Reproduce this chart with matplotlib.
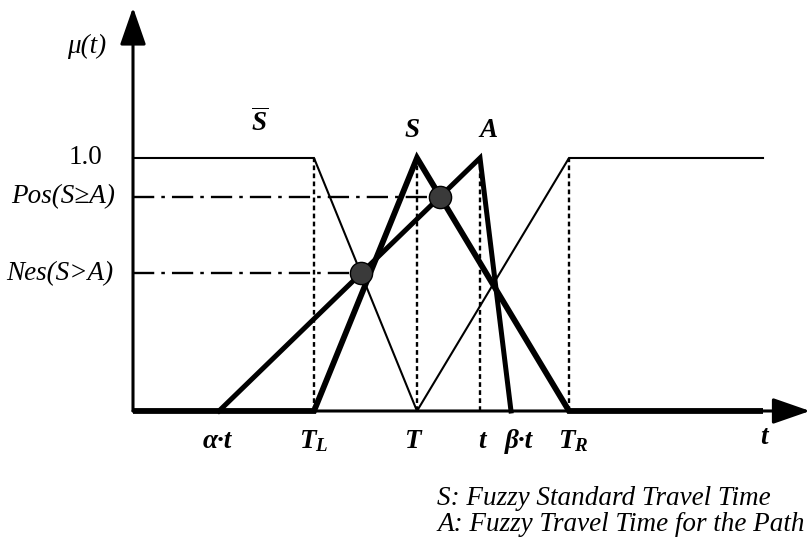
import matplotlib
matplotlib.use("Agg")
import matplotlib.pyplot as plt

plt.rcParams['font.family'] = ['Liberation Serif', 'DejaVu Serif']
plt.rcParams['mathtext.fontset'] = 'custom'
plt.rcParams['mathtext.rm'] = 'Liberation Serif'
plt.rcParams['mathtext.it'] = 'Liberation Serif:italic'
plt.rcParams['mathtext.bf'] = 'Liberation Serif:bold:italic'

# break points on the time axis
alpha_t = 8.6
T_L = 18.1
T = 28.4
t_path = 34.7
beta_t = 37.8
T_R = 43.6
t_end = 63.0

# membership functions (x, mu)
S_x = [0, T_L, T, T_R, t_end]
S_mu = [0, 0, 1, 0, 0]
A_x = [alpha_t, t_path, beta_t]
A_mu = [0, 1, 0]
Sbar_x = [0, T_L, T, T_R, t_end]
Sbar_mu = [1, 1, 0, 1, 1]

tick_pos = [alpha_t, T_L, T, t_path, beta_t, T_R]
tick_lbl = ['\u03b1\u00b7t', r'$\mathbf{T_L}$', 'T', 't',
            '\u03b2\u00b7t', r'$\mathbf{T_R}$']
tick_dx = [-0.2, 0, -0.5, 0.2, 0.8, 0.4]


def cross(x1, y1, x2, y2, x3, y3, x4, y4):
    # intersection of segment (1-2) with segment (3-4)
    m1 = (y2 - y1) / (x2 - x1)
    m2 = (y4 - y3) / (x4 - x3)
    x = (y3 - y1 + m1 * x1 - m2 * x3) / (m1 - m2)
    return x, y1 + m1 * (x - x1)


# Pos: A rising meets S falling, Nes: A rising meets S-bar falling
pos_x, pos_y = cross(alpha_t, 0, t_path, 1, T, 1, T_R, 0)
nes_x, nes_y = cross(alpha_t, 0, t_path, 1, T_L, 1, T, 0)

fig = plt.figure(figsize=(8.11, 5.39), dpi=100)
ax = fig.add_axes([0, 0, 1, 1])
ax.set_xlim(-13.3, 67.8)
ax.set_ylim(-0.506, 1.6245)
ax.axis('off')

# axes with arrow heads
arr = dict(arrowstyle='-|>,head_length=1.15,head_width=0.4', color='black',
           lw=2.2, mutation_scale=20, shrinkA=0, shrinkB=0)
ax.annotate('', xy=(0, 1.595), xytext=(0, 0), arrowprops=arr)
ax.annotate('', xy=(67.7, 0), xytext=(0, 0), arrowprops=arr)

ax.plot(Sbar_x, Sbar_mu, color='black', lw=1.5, solid_joinstyle='miter')
ax.plot(S_x, S_mu, color='black', lw=4.2, solid_joinstyle='miter',
        solid_capstyle='butt')
ax.plot(A_x, A_mu, color='black', lw=3.6, solid_joinstyle='miter')

for xv in [T_L, T, t_path, T_R]:
    ax.plot([xv, xv], [0, 1], color='black', lw=1.7, ls=(0, (2, 1.4)))

for xv, yv in [(pos_x, pos_y), (nes_x, nes_y)]:
    ax.plot([0, xv], [yv, yv], color='black', lw=1.7,
            ls=(0, (9, 3, 1.5, 3)))
    ax.plot(xv, yv, 'o', ms=16, mfc='#3a3a3a', mec='black', mew=1)

fs = 19.5
ax.text(-4.6, 1.44, '\u03bc(t)', fontsize=fs, style='italic',
        ha='center', va='center')
ax.text(-3.1, 1.0, '1.0', fontsize=fs, ha='right', va='center')
ax.text(-1.8, pos_y, 'Pos(S\u2265A)', fontsize=fs, style='italic',
        ha='right', va='center')
ax.text(-2.0, nes_y, 'Nes(S>A)', fontsize=fs, style='italic',
        ha='right', va='center')

ax.text(12.7, 1.14, r'$\overline{\mathbf{S}}$', fontsize=fs,
        ha='center', va='center')
ax.text(T - 0.5, 1.11, 'S', fontsize=fs, weight='bold', style='italic',
        ha='center', va='center')
ax.text(t_path + 0.8, 1.11, 'A', fontsize=fs, weight='bold', style='italic',
        ha='center', va='center')

for xv, dx, lbl in zip(tick_pos, tick_dx, tick_lbl):
    ax.text(xv + dx, -0.12, lbl, fontsize=fs, weight='bold', style='italic',
            ha='center', va='center')
ax.text(t_end + 0.1, -0.105, 't', fontsize=fs, weight='bold', style='italic',
        ha='center', va='center')

ax.text(30.4, -0.345, 'S: Fuzzy Standard Travel Time', fontsize=fs,
        style='italic', ha='left', va='center')
ax.text(30.4, -0.45, 'A: Fuzzy Travel Time for the Path', fontsize=fs,
        style='italic', ha='left', va='center')

fig.savefig('out.png', dpi=100)
